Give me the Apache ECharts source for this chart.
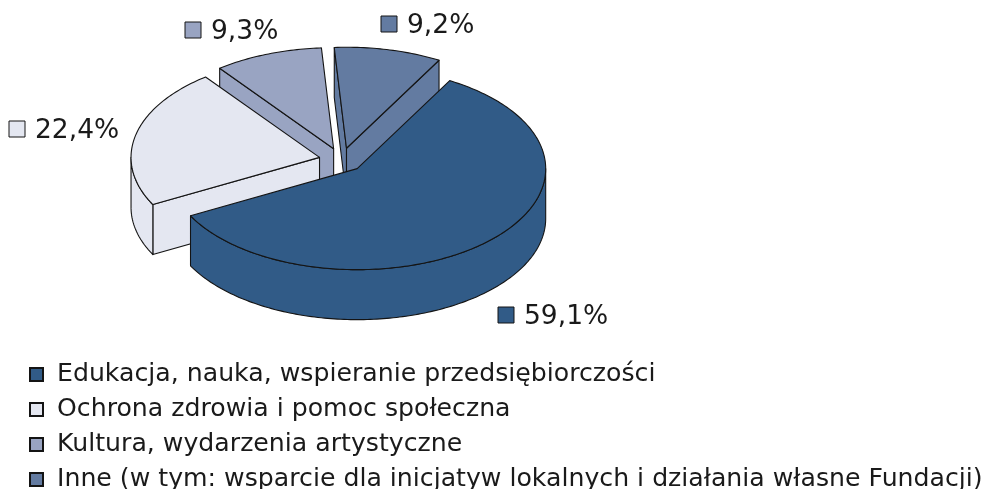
<!DOCTYPE html>
<html>
<head>
<meta charset="utf-8">
<title>Struktura wydatków</title>
<style>
  html, body { margin: 0; padding: 0; background: #fff; overflow: hidden; }
  #chart { width: 982px; height: 489px; }
</style>
<script src="https://cdn.jsdelivr.net/npm/echarts@6/dist/echarts.min.js"></script>
</head>
<body>
<div id="chart"></div>
<script>
// kategorie i udziały w procentach
const categories = [
  "Edukacja, nauka, wspieranie przedsiębiorczości",
  "Ochrona zdrowia i pomoc społeczna",
  "Kultura, wydarzenia artystyczne",
  "Inne (w tym: wsparcie dla inicjatyw lokalnych i działania własne Fundacji)",
];
const shares = [59.1, 22.4, 9.3, 9.2];

const colors = ["#315b87", "#e4e7f1", "#99a4c2", "#637ba1"];
const drawOrder = [5, 4, 2, 3]; // z: tylne wycinki najpierw
const labelKeys = [
  [498, 307],
  [9, 121],
  [185, 22],
  [381, 16],
];

// geometria "tortu"
const pie = { cx: 341.5, cy: 160, rx: 188.5, ry: 101, depth: 50, explode: 22.5, start: 29.4 };
const stroke = "#141414";
const FONT = '26.5px "DejaVu Sans"';

const total = shares.reduce((a, b) => a + b, 0);
const startAngles = shares.map((_, i) =>
  pie.start + (shares.slice(0, i).reduce((a, b) => a + b, 0) / total) * 360
);

const rad = (deg) => (deg * Math.PI) / 180;

function renderSlice(index) {
  return (params, api) => {
    const a0 = startAngles[index];
    const a1 = a0 + (api.value(0) / total) * 360;
    const mid = rad((a0 + a1) / 2);
    const ox = pie.cx + pie.explode * Math.sin(mid);
    const oy = pie.cy - (pie.explode * Math.cos(mid) * pie.ry) / pie.rx;
    const pt = (deg, drop = 0) => [
      ox + pie.rx * Math.sin(rad(deg)),
      oy - pie.ry * Math.cos(rad(deg)) + drop,
    ];
    const arc = (from, to, drop) => {
      const out = [];
      for (let d = from; d < to; d += 1) out.push(pt(d, drop));
      out.push(pt(to, drop));
      return out;
    };
    const face = { fill: colors[index], stroke: stroke, lineWidth: 1.1, lineJoin: "round" };
    const poly = (points) => ({ type: "polygon", shape: { points }, style: face, silent: true });
    const apex = [ox, oy];
    const apexLow = [ox, oy + pie.depth];
    const children = [];

    // ściany promieniowe, tylko te zwrócone do widza
    if (Math.sin(rad(a0)) < 0) {
      children.push(poly([apex, pt(a0), pt(a0, pie.depth), apexLow]));
    }
    if (Math.sin(rad(a1)) > 0) {
      children.push(poly([apex, pt(a1), pt(a1, pie.depth), apexLow]));
    }

    // ściana zewnętrzna, tylko przednia połowa (90-270 stopni)
    const from = Math.max(a0, 90);
    const to = Math.min(a1, 270);
    if (from < to) {
      children.push(poly(arc(from, to, 0).concat(arc(from, to, pie.depth).reverse())));
    }

    // górna powierzchnia
    children.push(poly([apex].concat(arc(a0, a1, 0))));

    // etykieta z kluczem
    const [kx, ky] = labelKeys[index];
    children.push({
      type: "rect",
      shape: { x: kx, y: ky, width: 16, height: 16 },
      style: { fill: colors[index], stroke: stroke, lineWidth: 1 },
      silent: true,
    });
    children.push({
      type: "text",
      style: {
        x: kx + 26,
        y: ky + 10,
        text: String(api.value(0)).replace(".", ",") + "%",
        font: FONT,
        fill: "#1a1a1a",
        verticalAlign: "middle",
      },
      silent: true,
    });
    return { type: "group", children };
  };
}

const chart = echarts.init(document.getElementById("chart"), null, { renderer: "canvas" });

chart.setOption({
  animation: false,
  backgroundColor: "#fff",
  legend: {
    data: categories,
    orient: "vertical",
    left: 29,
    top: 362,
    height: 170,
    padding: 0,
    itemWidth: 13,
    itemHeight: 13,
    itemGap: 10,
    selectedMode: false,
    icon: "rect",
    textStyle: {
      fontFamily: "DejaVu Sans",
      fontSize: 25.2,
      color: "#1a1a1a",
      padding: [0, 0, 0, 9],
    },
  },
  series: categories.map((name, i) => ({
    type: "custom",
    name: name,
    coordinateSystem: "none",
    z: drawOrder[i],
    itemStyle: { color: colors[i], borderColor: stroke, borderWidth: 0.8 },
    data: [[shares[i]]],
    renderItem: renderSlice(i),
  })),
});
</script>
</body>
</html>
